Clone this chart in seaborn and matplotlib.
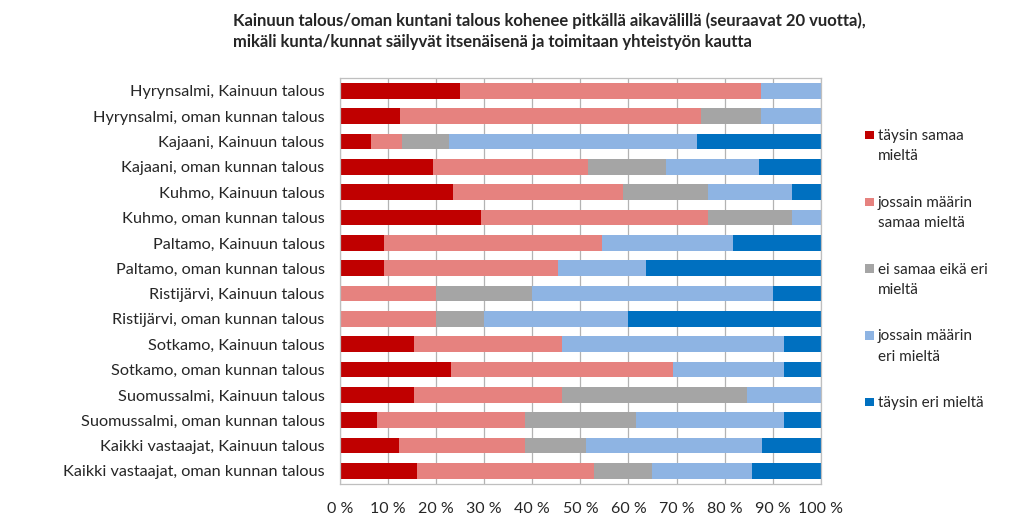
import numpy as np
import pandas as pd
import matplotlib
matplotlib.use('Agg')
import matplotlib.pyplot as plt
import seaborn as sns
from matplotlib.patches import Rectangle

# Data (percentages)
categories = [
    'Hyrynsalmi, Kainuun talous',
    'Hyrynsalmi, oman kunnan talous',
    'Kajaani, Kainuun talous',
    'Kajaani, oman kunnan talous',
    'Kuhmo, Kainuun talous',
    'Kuhmo, oman kunnan talous',
    'Paltamo, Kainuun talous',
    'Paltamo, oman kunnan talous',
    'Ristijärvi, Kainuun talous',
    'Ristijärvi, oman kunnan talous',
    'Sotkamo, Kainuun talous',
    'Sotkamo, oman kunnan talous',
    'Suomussalmi, Kainuun talous',
    'Suomussalmi, oman kunnan talous',
    'Kaikki vastaajat, Kainuun talous',
    'Kaikki vastaajat, oman kunnan talous',
]
taysin_samaa = [25.0, 12.5, 6.45, 19.35, 23.5, 29.4, 9.09, 9.09, 0, 0, 15.38, 23.08, 15.38, 7.69, 12.2, 16.1]
jossain_samaa = [62.5, 62.5, 6.45, 32.26, 35.3, 47.1, 45.45, 36.36, 20, 20, 30.77, 46.15, 30.77, 30.77, 26.2, 36.7]
ei_samaa_eri = [0, 12.5, 9.68, 16.13, 17.6, 17.6, 0, 0, 20, 10, 0, 0, 38.46, 23.08, 12.7, 12.2]
jossain_eri = [12.5, 12.5, 51.6, 19.35, 17.6, 5.9, 27.27, 18.18, 50, 30, 46.15, 23.08, 15.38, 30.77, 36.6, 20.8]
taysin_eri = [0, 0, 25.8, 12.9, 5.9, 0, 18.18, 36.36, 10, 40, 7.69, 7.69, 0, 7.69, 12.3, 14.2]

series_labels = ['täysin samaa\nmieltä', 'jossain määrin\nsamaa mieltä',
                 'ei samaa eikä eri\nmieltä', 'jossain määrin\neri mieltä',
                 'täysin eri mieltä']
colors = ['#C00000', '#E6827F', '#A5A5A5', '#8EB4E3', '#0070C0']
tick_labels = [f'{v} %' for v in range(0, 101, 10)]

df = pd.DataFrame({'cat': categories})
series = [taysin_samaa, jossain_samaa, ei_samaa_eri, jossain_eri, taysin_eri]
cum = np.cumsum(np.array(series, dtype=float), axis=0)
# normalise to 100 %
cum = cum / cum[-1] * 100

sns.set_style('white')
plt.rcParams['font.family'] = ['Lato', 'DejaVu Sans']

W, H = 1024, 532
fig = plt.figure(figsize=(W / 100, H / 100), dpi=100)
ax = fig.add_axes([0.332, 0.091, 0.4695, 0.762])

# stacked bars: draw cumulative totals from the largest down
for i in range(len(series) - 1, -1, -1):
    df['val'] = cum[i]
    sns.barplot(data=df, x='val', y='cat', color=colors[i], orient='h',
                width=0.62, saturation=1, linewidth=0, ax=ax)

ax.set_xlim(0, 100)
ax.set_xticks(range(0, 101, 10))
ax.set_xticklabels(tick_labels, fontsize=11.5)
ax.tick_params(axis='y', labelsize=11.7, length=0, pad=11)
ax.tick_params(axis='x', length=0, pad=13)
ax.set_xlabel('')
ax.set_ylabel('')
ax.xaxis.grid(True, color='#B3B3B3', linewidth=0.9)
ax.set_axisbelow(True)
for s in ax.spines.values():
    s.set_color('#BFBFBF')
    s.set_linewidth(0.9)

fig.text(233 / W, 1 - 12 / H,
         'Kainuun talous/oman kuntani talous kohenee pitkällä aikavälillä (seuraavat 20 vuotta),\n'
         'mikäli kunta/kunnat säilyvät itsenäisenä ja toimitaan yhteistyön kautta',
         fontsize=12, fontweight='bold', va='top', ha='left', linespacing=1.4)

# legend: square beside first line, entries evenly spaced
y0, step, sq = 135, 66.8, 8.5
for i, (lab, c) in enumerate(zip(series_labels, colors)):
    yc = y0 + i * step
    fig.add_artist(Rectangle((865 / W, 1 - (yc + sq / 2) / H), sq / W, sq / H,
                             transform=fig.transFigure, facecolor=c, edgecolor='none'))
    for j, line in enumerate(lab.split('\n')):
        fig.text(878 / W, 1 - (yc + 1 + j * 20.5) / H, line, fontsize=11,
                 va='center', ha='left')

fig.savefig('out.png', dpi=100)
